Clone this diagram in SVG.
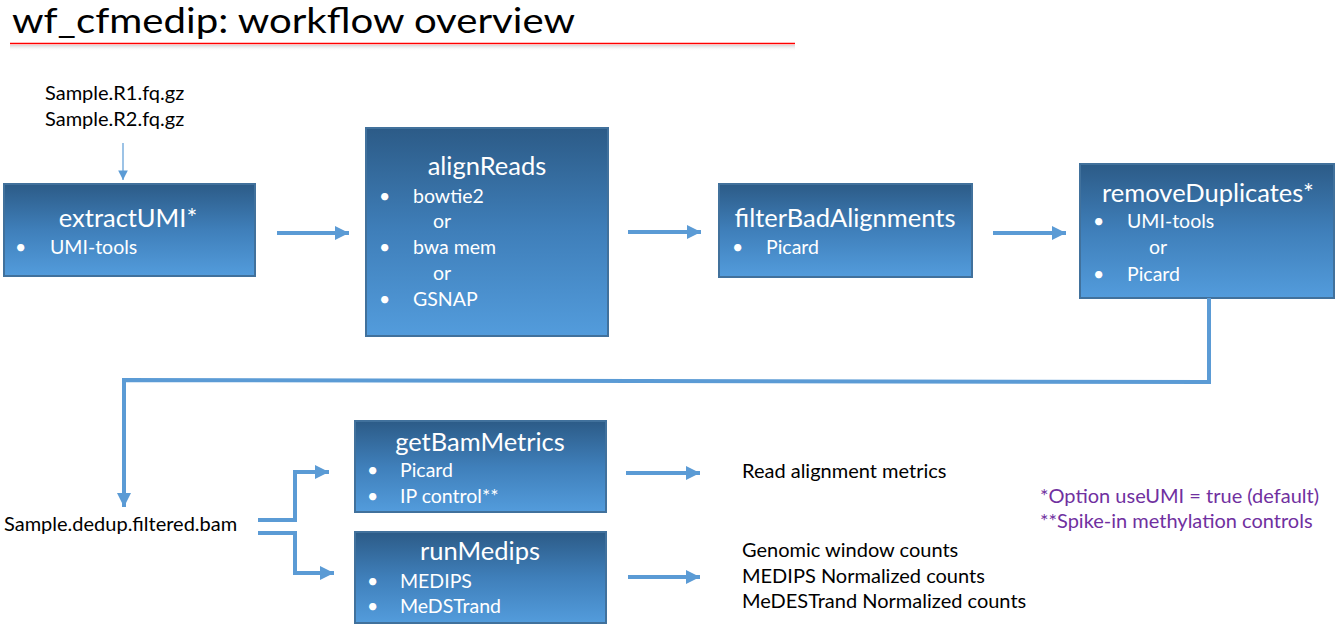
<svg xmlns="http://www.w3.org/2000/svg" width="1342" height="630" viewBox="0 0 1342 630">
<defs>
<linearGradient id="boxg" x1="0" y1="0" x2="0" y2="1">
<stop offset="0" stop-color="#2C5B87"/>
<stop offset="0.5" stop-color="#3F7FBA"/>
<stop offset="1" stop-color="#539CDC"/>
</linearGradient>
<linearGradient id="shadowg" x1="0" y1="0" x2="0" y2="1">
<stop offset="0" stop-color="#bbbbbb" stop-opacity="0.6"/>
<stop offset="1" stop-color="#ffffff" stop-opacity="0"/>
</linearGradient>
<marker id="ah" viewBox="0 0 10 10" refX="10" refY="5" markerWidth="3.5" markerHeight="3.5" markerUnits="strokeWidth" orient="auto">
<path d="M0,0 L10,5 L0,10 z" fill="#5B9BD5"/>
</marker>
<marker id="ahs" viewBox="0 0 10 10" refX="10" refY="5" markerWidth="8" markerHeight="8" markerUnits="strokeWidth" orient="auto">
<path d="M0,0 L10,5 L0,10 z" fill="#5B9BD5"/>
</marker>
</defs>
<style>
.box{fill:url(#boxg);stroke:#41719C;stroke-width:2}
.t{font-family:Lato,"Open Sans",sans-serif;fill:#fff;font-size:25.5px;text-anchor:middle}
.b{font-family:Lato,"Open Sans",sans-serif;fill:#fff;font-size:19.5px}
.k{font-family:Lato,"Open Sans",sans-serif;fill:#000;font-size:20px}
.p{font-family:Lato,"Open Sans",sans-serif;fill:#7030A0;font-size:20px}
.c{fill:none;stroke:#5B9BD5;stroke-width:4}
.cs{fill:none;stroke:#5B9BD5;stroke-width:1.2}
</style>
<rect width="1342" height="630" fill="#fff"/>
<g id="title">
<text x="12" y="33" font-family="Lato,'Open Sans',sans-serif" font-size="35" fill="#000" textLength="563" lengthAdjust="spacingAndGlyphs">wf_cfmedip: workflow overview</text>
<rect x="10" y="45" width="785" height="6" fill="url(#shadowg)"/>
<line x1="10" y1="43.5" x2="795" y2="43.5" stroke="#FF0000" stroke-width="1.5"/>
</g>
<g id="input">
<text class="k" x="45" y="100">Sample.R1.fq.gz</text>
<text class="k" x="45" y="126">Sample.R2.fq.gz</text>
</g>
<g id="extractUMI">
<rect class="box" x="4" y="184" width="251" height="92"/>
<text class="t" x="128" y="227">extractUMI*</text>
<text class="b" x="15" y="254">•</text>
<text class="b" x="50" y="254">UMI-tools</text>
</g>
<g id="alignReads">
<rect class="box" x="366" y="128" width="242" height="208"/>
<text class="t" x="487" y="175">alignReads</text>
<text class="b" x="379" y="203">•</text>
<text class="b" x="413" y="203">bowtie2</text>
<text class="b" x="433" y="228">or</text>
<text class="b" x="379" y="254">•</text>
<text class="b" x="413" y="254">bwa mem</text>
<text class="b" x="433" y="280">or</text>
<text class="b" x="379" y="306">•</text>
<text class="b" x="413" y="306">GSNAP</text>
</g>
<g id="filterBadAlignments">
<rect class="box" x="719" y="184" width="253" height="93"/>
<text class="t" x="845" y="227">filterBadAlignments</text>
<text class="b" x="732" y="254">•</text>
<text class="b" x="766" y="254">Picard</text>
</g>
<g id="removeDuplicates">
<rect class="box" x="1080" y="164" width="254" height="134"/>
<text class="t" x="1208" y="202">removeDuplicates*</text>
<text class="b" x="1093" y="228">•</text>
<text class="b" x="1127" y="228">UMI-tools</text>
<text class="b" x="1149" y="254">or</text>
<text class="b" x="1093" y="281">•</text>
<text class="b" x="1127" y="281">Picard</text>
</g>
<g id="bam">
<text class="k" x="4" y="531">Sample.dedup.filtered.bam</text>
</g>
<g id="getBamMetrics">
<rect class="box" x="355" y="421" width="251" height="91"/>
<text class="t" x="480" y="451">getBamMetrics</text>
<text class="b" x="367" y="477">•</text>
<text class="b" x="400" y="477">Picard</text>
<text class="b" x="367" y="503">•</text>
<text class="b" x="400" y="503">IP control**</text>
</g>
<g id="runMedips">
<rect class="box" x="355" y="532" width="251" height="91"/>
<text class="t" x="480" y="560">runMedips</text>
<text class="b" x="367" y="588">•</text>
<text class="b" x="400" y="588">MEDIPS</text>
<text class="b" x="367" y="613">•</text>
<text class="b" x="400" y="613">MeDSTrand</text>
</g>
<g id="outputs">
<text class="k" x="742" y="478">Read alignment metrics</text>
<text class="k" x="742" y="557">Genomic window counts</text>
<text class="k" x="742" y="583">MEDIPS Normalized counts</text>
<text class="k" x="742" y="608">MeDESTrand Normalized counts</text>
</g>
<g id="notes">
<text class="p" x="1040" y="503">*Option useUMI = true (default)</text>
<text class="p" x="1040" y="528">**Spike-in methylation controls</text>
</g>
<g id="connectors">
<line class="cs" x1="123" y1="143" x2="123" y2="180" marker-end="url(#ahs)"/>
<line class="c" x1="277" y1="233" x2="349" y2="233" marker-end="url(#ah)"/>
<line class="c" x1="628" y1="232" x2="701" y2="232" marker-end="url(#ah)"/>
<line class="c" x1="993" y1="233" x2="1066" y2="233" marker-end="url(#ah)"/>
<polyline class="c" points="1209,298 1209,382 124,380 124,507" marker-end="url(#ah)"/>
<polyline class="c" points="258,520 295,520 295,472 329,472" marker-end="url(#ah)"/>
<polyline class="c" points="258,533 295,533 295,573 334,573" marker-end="url(#ah)"/>
<line class="c" x1="626" y1="473" x2="700" y2="473" marker-end="url(#ah)"/>
<line class="c" x1="628" y1="577" x2="700" y2="577" marker-end="url(#ah)"/>
</g>
</svg>
